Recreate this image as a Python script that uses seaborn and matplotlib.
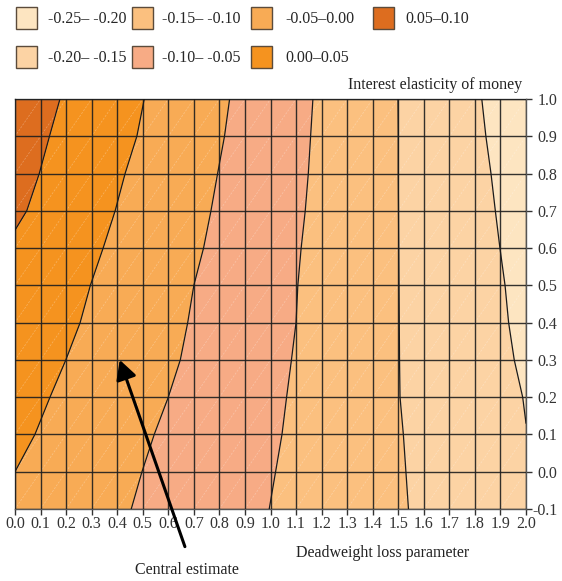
import numpy as np
import matplotlib
matplotlib.use("Agg")
import matplotlib.pyplot as plt
from matplotlib.patches import Patch
import seaborn as sns

# ---- data -------------------------------------------------------------
level_labels = ["-0.25– -0.20", "-0.20– -0.15", "-0.15– -0.10", "-0.10– -0.05",
                "-0.05–0.00", "0.00–0.05", "0.05–0.10"]
level_colors = ["#FDE5C1", "#FCD3A4", "#FBC07F", "#F7AB85",
                "#F8AB55", "#F5931F", "#DD6D1F"]

y_rows = [-0.1, 0.0, 0.1, 0.2, 0.3, 0.4, 0.5, 0.6, 0.7, 0.8, 0.9, 1.0]

# contour line 0.05 (x where value = 0.05, by interest elasticity)
c_005_y = [0.648, 0.7, 0.8, 0.9, 1.0]
c_005_x = [0.0, 0.046, 0.095, 0.135, 0.176]
# contour line 0.00
c_000_y = [0.0, 0.1, 0.2, 0.3, 0.4, 0.5, 0.6, 0.7, 0.8, 0.9, 1.0]
c_000_x = [0.0, 0.078, 0.137, 0.199, 0.255, 0.295, 0.345, 0.392, 0.431, 0.477, 0.506]
# contour line -0.05
c_m005_y = y_rows
c_m005_x = [0.455, 0.497, 0.545, 0.600, 0.647, 0.676, 0.700, 0.738, 0.767, 0.793, 0.820, 0.840]
# contour line -0.10
c_m010_y = y_rows
c_m010_x = [0.995, 1.020, 1.045, 1.063, 1.082, 1.100, 1.107, 1.120, 1.136, 1.148, 1.157, 1.166]
# contour line -0.15
c_m015_y = y_rows
c_m015_x = [1.540, 1.530, 1.520, 1.507, 1.505, 1.504, 1.503, 1.502, 1.501, 1.500, 1.500, 1.499]
# contour line -0.20
c_m020_y = [0.13, 0.2, 0.3, 0.4, 0.5, 0.6, 0.7, 0.8, 0.9, 1.0]
c_m020_x = [2.0, 1.987, 1.954, 1.932, 1.918, 1.898, 1.880, 1.863, 1.843, 1.827]

x_ticks = [round(0.1 * i, 1) for i in range(21)]
y_ticks = y_rows
central_estimate = (0.41, 0.30)
annotation_tail = (0.665, -0.201)

# ---- figure -----------------------------------------------------------
sns.set_style("white")
plt.rcParams["font.family"] = ["Liberation Serif", "DejaVu Serif"]

W, H = 562, 581
fig = plt.figure(figsize=(W / 100, H / 100), dpi=100)
ax = fig.add_axes([15 / W, 1 - 509 / H, 511 / W, 410 / H])

yf = np.linspace(-0.1, 1.0, 441)
lines = [(c_005_x, c_005_y), (c_000_x, c_000_y), (c_m005_x, c_m005_y),
         (c_m010_x, c_m010_y), (c_m015_x, c_m015_y), (c_m020_x, c_m020_y)]
bounds = [np.zeros_like(yf)]
for xs, ys in lines:
    bounds.append(np.interp(yf, ys, xs))
bounds.append(np.full_like(yf, 2.0))

# regions from left to right: 0.05-0.10 ... -0.25- -0.20
fill_colors = level_colors[::-1]
for i in range(len(bounds) - 1):
    left = bounds[i]
    right = np.maximum(bounds[i + 1], left)
    ax.fill_betweenx(yf, left, right, color=fill_colors[i], lw=0, zorder=1)

# faint triangulation diagonals
for k in np.arange(-1.2, 2.01, 0.1):
    ax.plot([k - 0.2, k + 1.2], [-0.2, 1.2], color="white", lw=0.5,
            ls=(0, (3, 2)), alpha=0.3, zorder=2)

# grid
for xv in x_ticks:
    ax.axvline(xv, color="#1e1e1e", lw=1.0, alpha=0.9, zorder=3)
for yv in y_ticks:
    ax.axhline(yv, color="#1e1e1e", lw=1.0, alpha=0.9, zorder=3)

# contour lines
for xs, ys in lines:
    sns.lineplot(x=xs, y=ys, sort=False, estimator=None, color="#1a1a1a",
                 lw=0.9, ax=ax, zorder=4)

ax.set_xlim(0, 2.0)
ax.set_ylim(-0.1, 1.0)
ax.set_xticks(x_ticks)
ax.set_xticklabels([f"{v:.1f}" for v in x_ticks])
ax.set_yticks(y_ticks)
ax.set_yticklabels([f"{v:.1f}" for v in y_ticks])
ax.yaxis.tick_right()
ax.tick_params(axis="both", labelsize=11.5, colors="#333333", length=4.3,
               width=1.0, direction="out")
ax.tick_params(axis="x", bottom=True, top=False, pad=0.5)
ax.tick_params(axis="y", right=True, left=False, pad=18.3)
for lab in ax.get_yticklabels():
    lab.set_horizontalalignment("right")
for s in ax.spines.values():
    s.set_color("#555555")
    s.set_linewidth(1.0)
ax.set_xlabel("")
ax.set_ylabel("")

fig.text(522 / W, 1 - 85 / H, "Interest elasticity of money",
         ha="right", va="center", fontsize=11.5, color="#222222")
fig.text(382.5 / W, 1 - 553 / H, "Deadweight loss parameter",
         ha="center", va="center", fontsize=11.5, color="#222222")
fig.text(187 / W, 1 - 570 / H, "Central estimate",
         ha="center", va="center", fontsize=11.5, color="#222222")

ax.annotate("", xy=central_estimate, xytext=annotation_tail,
            arrowprops=dict(arrowstyle="-|>,head_length=0.58,head_width=0.31",
                            color="black", lw=2.2, mutation_scale=20,
                            shrinkA=0, shrinkB=0),
            annotation_clip=False, zorder=6)

# legend: four columns placed like the reference
columns = [[0, 1], [2, 3], [4, 5], [6]]
col_left_px = [16, 131.7, 250.7, 372.7]
col_pad = [0.67, 0.56, 0.80, 0.73]
for idx, x0, pad in zip(columns, col_left_px, col_pad):
    hs = [Patch(facecolor=level_colors[i], edgecolor="#5b4b3b", lw=1.0) for i in idx]
    fig.legend(hs, [level_labels[i] for i in idx], loc="upper left",
               bbox_to_anchor=(x0 / W, 1 - 7.3 / H), ncol=1, frameon=False,
               fontsize=11.5, handlelength=1.346, handleheight=1.743,
               handletextpad=pad, labelspacing=1.033,
               borderpad=0, borderaxespad=0)

fig.savefig("out.png", dpi=100)
